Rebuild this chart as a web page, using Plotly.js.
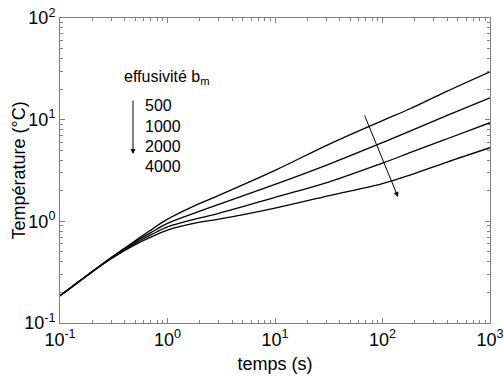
<!DOCTYPE html>
<html><head><meta charset="utf-8">
<script src="https://cdn.plot.ly/plotly-3.0.1.min.js"></script>
<style>html,body{margin:0;padding:0;background:#fff}</style>
</head><body><div id="chart" style="width:504px;height:376px"></div>
<script>
// time (s)
const time  = [0.1, 0.2, 0.3, 0.5, 0.7, 1, 2, 3, 10, 32, 100, 180, 400, 1000];
// temperature (°C) for each effusivity b_m
const T500  = [0.185, 0.32, 0.44, 0.645, 0.82, 1.05, 1.50, 1.80, 3.17, 5.75, 9.8, 12.8, 19.1, 29.6];
const T1000 = [0.185, 0.32, 0.44, 0.63, 0.775, 0.955, 1.26, 1.47, 2.31, 3.66, 5.95, 7.7, 11.0, 16.4];
const T2000 = [0.185, 0.32, 0.435, 0.61, 0.735, 0.88, 1.08, 1.20, 1.72, 2.45, 3.74, 4.73, 6.49, 9.33];
const T4000 = [0.185, 0.32, 0.43, 0.59, 0.70, 0.82, 0.98, 1.05, 1.35, 1.79, 2.35, 2.85, 3.83, 5.3];
const effusivities = ['500', '1000', '2000', '4000'];
const series = [T500, T1000, T2000, T4000];

const xTickVals = [0.1, 1, 10, 100, 1000];
const xTickText = ['10<sup>-1</sup>', '10<sup>0</sup>', '10<sup>1</sup>', '10<sup>2</sup>', '10<sup>3</sup>'];
const yTickVals = [0.1, 1, 10, 100];
const yTickText = ['10<sup>-1</sup>', '10<sup>0</sup>', '10<sup>1</sup>', '10<sup>2</sup>'];

function minorVals(lo, hi) {
  const out = [];
  for (let e = lo; e < hi; e++) for (let d = 2; d <= 9; d++) out.push(d * Math.pow(10, e));
  return out;
}

const traces = series.map((s, i) => ({
  x: time, y: s, type: 'scatter', mode: 'lines', name: effusivities[i],
  line: {color: '#000', width: 1.3, shape: 'spline', smoothing: 1},
  hoverinfo: 'skip'
}));

const FONT = 'Liberation Sans, Arial, Helvetica, sans-serif';
const frame = '#808080';
const axisCommon = {
  type: 'log', showgrid: false, zeroline: false, showline: true, linecolor: frame, linewidth: 1,
  mirror: 'ticks', ticks: 'inside', ticklen: 5, tickcolor: frame, tickwidth: 1,
  tickmode: 'array', tickfont: {family: FONT, size: 18, color: '#000'}
};

const PL = 60, PR = 490, PT = 18, PB = 323;
const px = v => (v - PL) / (PR - PL);
const py = v => (PB - v) / (PB - PT);

const annotations = [
  {xref: 'paper', yref: 'paper', x: px(122), y: py(77), xanchor: 'left', yanchor: 'middle',
   text: 'effusivité b<sub>m</sub>', showarrow: false, font: {family: FONT, size: 16, color: '#000'}},
  {xref: 'paper', yref: 'paper', x: px(18), y: 0.5, xanchor: 'center', yanchor: 'middle', textangle: -90,
   text: 'Température (°C)', showarrow: false, font: {family: FONT, size: 18, color: '#000'}}
];
const labelY = [106, 126, 146, 166];
effusivities.forEach((t, i) => annotations.push({
  xref: 'paper', yref: 'paper', x: px(143), y: py(labelY[i]), xanchor: 'left', yanchor: 'middle',
  text: t, showarrow: false, font: {family: FONT, size: 16, color: '#000'}
}));
annotations.push({xref: 'paper', yref: 'paper', x: px(133), y: py(154), text: '', showarrow: true,
  axref: 'pixel', ayref: 'pixel', ax: 0, ay: -55, arrowhead: 2, arrowsize: 1, arrowwidth: 1, arrowcolor: '#000', standoff: 0});
annotations.push({xref: 'paper', yref: 'paper', x: px(398), y: py(197), text: '', showarrow: true,
  axref: 'pixel', ayref: 'pixel', ax: -34, ay: -83, arrowhead: 2, arrowsize: 1, arrowwidth: 1, arrowcolor: '#000', standoff: 0});

const layout = {
  width: 504, height: 376,
  margin: {l: PL, r: 504 - PR, t: PT, b: 376 - PB},
  paper_bgcolor: '#fff', plot_bgcolor: '#fff',
  showlegend: false,
  font: {family: FONT, color: '#000'},
  xaxis: Object.assign({}, axisCommon, {
    range: [-1, 3], tickvals: xTickVals, ticktext: xTickText,
    minor: {tickmode: 'array', tickvals: minorVals(-1, 3), ticks: 'inside', ticklen: 3, tickcolor: frame},
    title: {text: 'temps (s)', font: {family: FONT, size: 18, color: '#000'}, standoff: 8}
  }),
  yaxis: Object.assign({}, axisCommon, {
    range: [-1, 2], tickvals: yTickVals, ticktext: yTickText,
    minor: {tickmode: 'array', tickvals: minorVals(-1, 2), ticks: 'inside', ticklen: 3, tickcolor: frame}
  }),
  annotations: annotations
};

Plotly.newPlot('chart', traces, layout, {staticPlot: true, displayModeBar: false});
</script>
</body></html>
